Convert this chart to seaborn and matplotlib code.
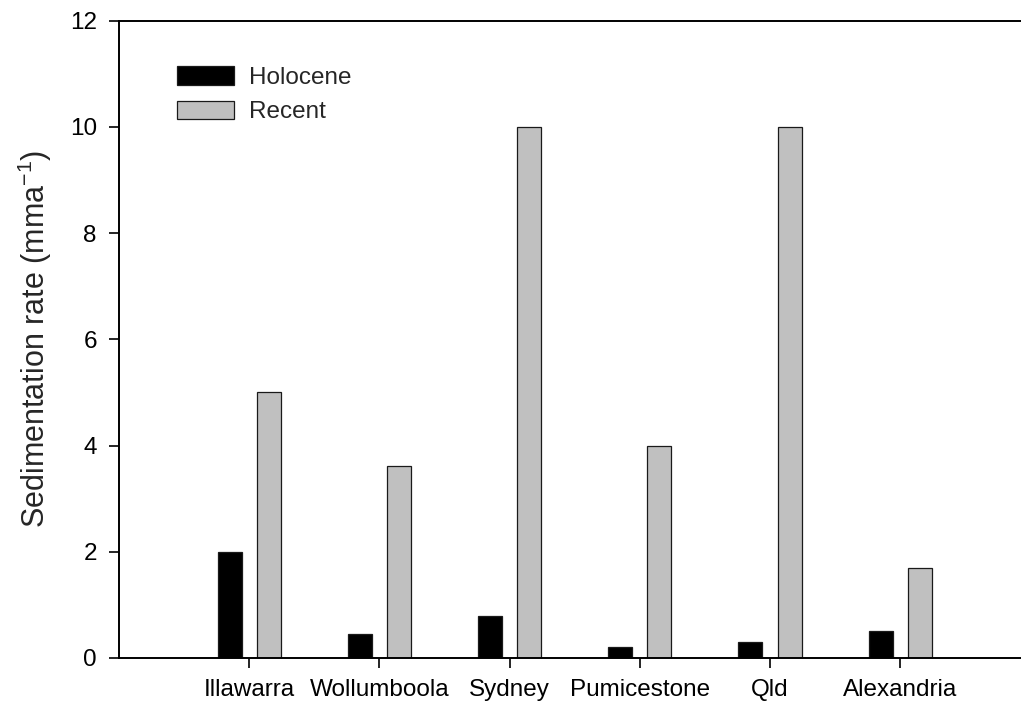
import pandas as pd
import numpy as np
import matplotlib
matplotlib.use('Agg')
import matplotlib.pyplot as plt
import seaborn as sns

# ─────────────────────────────────────────
# DATA
# ─────────────────────────────────────────
sites = ['Illawarra', 'Wollumboola', 'Sydney', 'Pumicestone', 'Qld', 'Alexandria']
holocene = [2.0, 0.46, 0.8, 0.2, 0.3, 0.5]
recent = [5.0, 3.62, 10.0, 4.0, 10.0, 1.7]
periods = ['Holocene', 'Recent']

df = pd.DataFrame({
    'Site': sites * 2,
    'Period': [periods[0]] * len(sites) + [periods[1]] * len(sites),
    'Rate': holocene + recent,
})

# ─────────────────────────────────────────
# SETUP
# ─────────────────────────────────────────
sns.set_style('ticks')
plt.rcParams['font.family'] = ['Liberation Sans', 'DejaVu Sans']
plt.rcParams['mathtext.default'] = 'regular'

fig = plt.figure(figsize=(10.21, 7.07), dpi=100)
ax = fig.add_axes([119 / 1021, 49 / 707, 911.4 / 1021, 637.3 / 707])

sns.barplot(data=df, x='Site', y='Rate', hue='Period', order=sites,
            hue_order=periods, palette=['#000000', '#c0c0c0'],
            width=0.6, gap=0.387, edgecolor='#1a1a1a', linewidth=0.9,
            errorbar=None, ax=ax)

ax.set_xlim(-1, 6)
ax.set_ylim(0, 12)
ax.set_yticks(np.arange(0, 13, 2))
ax.set_xlabel('')
ax.set_ylabel('Sedimentation rate (mma$^{-1}$)', fontsize=22, labelpad=11)

for side in ['left', 'bottom', 'top']:
    ax.spines[side].set_linewidth(1.4)
    ax.spines[side].set_color('black')
ax.spines['right'].set_visible(False)
ax.tick_params(axis='both', direction='out', length=7, width=1.2,
               labelsize=17.5, colors='black')
ax.tick_params(axis='y', pad=9)
ax.tick_params(axis='x', pad=8)

leg = ax.legend(loc='upper left', bbox_to_anchor=(177 / 1021, 1 - 66.5 / 707),
                bbox_transform=fig.transFigure, frameon=False, fontsize=17.5,
                borderpad=0, borderaxespad=0, handlelength=2.35,
                handleheight=0.78, handletextpad=0.6, labelspacing=0.48)

fig.savefig('out.png', dpi=100)
